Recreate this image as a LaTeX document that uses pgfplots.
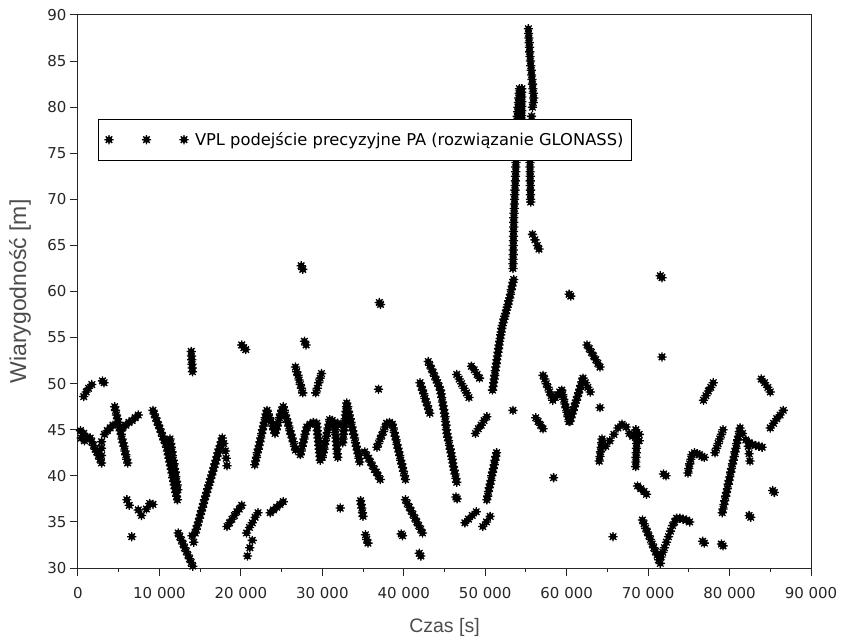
\documentclass[border=0pt]{standalone}
\usepackage{pgfplots}
\pgfplotsset{compat=1.18}
\usepackage{fontspec}
\setmainfont{DejaVu Sans}
\newfontfamily\labfont{Liberation Sans}
\pgfdeclareplotmark{ast8}{%
  \pgfpathmoveto{\pgfqpoint{-\pgfplotmarksize}{0pt}}\pgfpathlineto{\pgfqpoint{\pgfplotmarksize}{0pt}}%
  \pgfpathmoveto{\pgfqpoint{0pt}{-\pgfplotmarksize}}\pgfpathlineto{\pgfqpoint{0pt}{\pgfplotmarksize}}%
  \pgfpathmoveto{\pgfqpoint{-0.707\pgfplotmarksize}{-0.707\pgfplotmarksize}}\pgfpathlineto{\pgfqpoint{0.707\pgfplotmarksize}{0.707\pgfplotmarksize}}%
  \pgfpathmoveto{\pgfqpoint{-0.707\pgfplotmarksize}{0.707\pgfplotmarksize}}\pgfpathlineto{\pgfqpoint{0.707\pgfplotmarksize}{-0.707\pgfplotmarksize}}%
  \pgfusepathqstroke
  \pgfpathcircle{\pgfpointorigin}{0.55\pgfplotmarksize}\pgfusepathqfillstroke}
\begin{document}
\begin{tikzpicture}
\begin{axis}[
  scale only axis, width=733pt, height=553pt,
  xmin=0, xmax=90000, ymin=30, ymax=90,
  scaled x ticks=false, scaled y ticks=false,
  axis line style={line width=1pt, black!85},
  xtick={0,10000,20000,30000,40000,50000,60000,70000,80000,90000},
  xticklabels={0,10~000,20~000,30~000,40~000,50~000,60~000,70~000,80~000,90~000},
  ytick={30,35,40,45,50,55,60,65,70,75,80,85,90},
  yticklabels={30,35,40,45,50,55,60,65,70,75,80,85,90},
  minor x tick num=1,
  tick pos=left,
  tick align=outside,
  major tick length=8pt, minor tick length=4pt,
  tick style={line width=1pt, black!85},
  tick label style={font=\fontsize{15}{17}\selectfont, text=black!85},
  xticklabel style={yshift=-8pt},
  xlabel={Czas [s]}, ylabel={Wiarygodność [m]},
  label style={text=black!70},
  xlabel style={font=\labfont\fontsize{19.5}{22}\selectfont, at={(axis description cs:0.5,-0.1067)}, anchor=center},
  ylabel style={font=\labfont\fontsize{23}{25}\selectfont, at={(axis description cs:-0.0791,0.5)}, anchor=center},
  legend style={at={(axis description cs:0.0273,0.812)}, anchor=north west,
    draw=black, line width=0.8pt, fill=white,
    font=\fontsize{16.3}{18}\selectfont, inner xsep=6pt, inner ysep=11pt},
  legend image code/.code={\draw[#1,only marks] plot coordinates {(0pt,0pt) (37.5pt,0pt) (75pt,0pt)};\path[draw=none,fill=none] (-4.6pt,0pt) (84pt,0pt);},
]
\addplot[only marks, mark=ast8, mark size=4.6pt, black, line width=1.3pt] coordinates {
(300,44.9) (400,44.1) (700,44.6) (800,43.8) (1100,44.2)
(700,48.6) (1000,49.1) (1300,49.5) (1700,49.9)
(3000,50.3) (3200,50.1)
(1500,44.1) (1700,43.7) (1900,43.3) (2100,42.9) (2300,42.6) (2500,42.2) (2700,41.8) (2900,41.4) (2900,42.2) (2900,43.0) (2900,43.7)
(3250,44.5) (3600,44.9) (3950,45.2) (4300,45.5)
(4500,47.5) (4610,47.1) (4730,46.6) (4840,46.2) (4960,45.8) (5070,45.3) (5190,44.9) (5300,44.5) (5410,44.0) (5530,43.6) (5640,43.2) (5760,42.7) (5870,42.3) (5990,41.8) (6100,41.4)
(5500,45.2) (5880,45.5) (6260,45.8) (6640,46.0) (7020,46.3) (7400,46.6)
(6000,37.4) (6300,36.8) (7400,36.3) (7800,35.7) (8400,36.4) (8800,37.0) (9200,36.9)
(6600,33.4)
(9200,47.1) (9370,46.7) (9540,46.3) (9710,45.9) (9880,45.5) (10050,45.1) (10220,44.7) (10390,44.3) (10560,43.9) (10730,43.5) (10900,43.1)
(10990,42.7) (11090,42.3) (11180,41.9) (11270,41.5) (11360,41.1) (11460,40.7) (11550,40.3) (11640,39.8) (11740,39.4) (11830,39.0) (11920,38.6) (12010,38.2) (12110,37.8) (12200,37.4)
(11300,44.0) (11380,43.5) (11460,43.1) (11540,42.6) (11620,42.2) (11700,41.7) (11780,41.3) (11860,40.8) (11940,40.4) (12020,39.9) (12100,39.4) (12180,39.0) (12260,38.5)
(13900,53.5) (13930,53.0) (13960,52.6) (14000,52.1) (14030,51.7) (14060,51.3)
(20100,54.2) (20350,53.9) (20600,53.7)
(12300,33.8) (12500,33.4) (12700,33.0) (12900,32.6) (13100,32.2) (13300,31.8) (13500,31.4) (13700,31.0) (13900,30.6) (14100,30.2) (14300,29.8)
(14000,33.5) (14200,32.8)
(14400,33.8) (14530,34.2) (14650,34.6) (14780,35.0) (14910,35.4) (15030,35.8) (15160,36.2) (15290,36.6) (15420,37.0) (15540,37.4) (15670,37.8) (15800,38.2) (15920,38.6) (16050,39.0) (16180,39.3) (16300,39.7) (16430,40.1) (16560,40.5) (16690,40.9) (16810,41.3) (16940,41.7) (17070,42.1) (17190,42.5) (17320,42.9) (17450,43.3) (17580,43.7) (17700,44.1)
(17900,43.5) (18100,42.7) (18200,41.9) (18300,41.1)
(18300,34.5) (18600,34.9) (18900,35.3) (19200,35.7) (19500,36.1) (19800,36.4) (20100,36.8)
(20700,33.8) (21050,34.4) (21400,34.9) (21750,35.5) (22100,36.0)
(20800,31.3) (21100,32.2) (21400,33.0)
(23600,36.0) (24000,36.3) (24400,36.6) (24800,36.9) (25200,37.2)
(21700,41.2) (21810,41.6) (21910,42.0) (22020,42.5) (22130,42.9) (22240,43.3) (22340,43.7) (22450,44.1) (22560,44.6) (22660,45.0) (22770,45.4) (22880,45.8) (22990,46.3) (23090,46.7) (23200,47.1)
(23370,46.7) (23530,46.3) (23700,45.9) (23870,45.4) (24030,45.0) (24200,44.6)
(24330,45.0) (24470,45.4) (24600,45.8) (24730,46.3) (24870,46.7) (25000,47.1) (25200,47.5)
(25340,47.1) (25470,46.6) (25610,46.2) (25750,45.8) (25880,45.4) (26020,44.9) (26160,44.5) (26290,44.1) (26430,43.7) (26570,43.2) (26700,42.8)
(27300,42.3) (27410,42.7) (27530,43.2) (27640,43.6) (27760,44.0) (27870,44.5) (27990,44.9) (28100,45.3)
(28500,45.6) (28900,45.8) (29300,45.7)
(29340,45.3) (29380,44.9) (29430,44.5) (29470,44.1) (29520,43.7) (29560,43.3) (29610,42.9) (29650,42.5) (29700,42.1) (29740,41.7)
(30000,42.0) (30100,42.5) (30200,42.9) (30300,43.4) (30400,43.8) (30500,44.3) (30600,44.7) (30700,45.2) (30800,45.6) (30900,46.1)
(31200,46.0) (31500,45.8)
(31540,45.4) (31580,45.0) (31630,44.5) (31670,44.1) (31710,43.7) (31760,43.3) (31800,42.9) (31840,42.4) (31900,42.0)
(31900,45.7) (32300,45.5)
(32500,43.6) (32550,44.0) (32600,44.5) (32650,44.9) (32700,45.3) (32750,45.7) (32800,46.2) (32850,46.6) (32900,47.0) (32950,47.5) (33000,47.9)
(33110,47.5) (33210,47.0) (33320,46.6) (33430,46.2) (33530,45.8) (33640,45.3) (33750,44.9) (33850,44.5) (33960,44.1) (34070,43.6) (34170,43.2) (34280,42.8) (34390,42.4) (34490,41.9) (34600,41.5)
(35200,42.6) (35440,42.2) (35680,41.9) (35910,41.5) (36150,41.1) (36390,40.7) (36630,40.4) (36860,40.0) (37100,39.6)
(36700,43.1) (36900,43.5) (37100,44.0) (37300,44.4) (37500,44.8) (37700,45.3) (37900,45.7) (38250,45.8) (38600,45.6)
(38710,45.2) (38830,44.7) (38940,44.3) (39060,43.9) (39170,43.4) (39290,43.0) (39400,42.6) (39510,42.2) (39630,41.7) (39740,41.3) (39860,40.9) (39970,40.5) (40090,40.0) (40200,39.6)
(26700,51.8) (26850,51.3) (27000,50.9) (27150,50.4) (27300,49.9) (27450,49.5) (27600,49.0)
(29200,49.0) (29380,49.5) (29550,50.1) (29730,50.6) (29900,51.1)
(27800,54.6) (28000,54.2)
(27400,62.8) (27600,62.4)
(37000,58.8) (37150,58.6)
(36900,49.4)
(32200,36.5)
(34700,37.3) (34780,36.9) (34850,36.5) (34930,36.0) (35000,35.6)
(35300,33.6) (35450,33.1) (35600,32.7)
(40200,37.4) (40430,37.0) (40670,36.6) (40900,36.2) (41130,35.8) (41370,35.4) (41600,35.0) (41830,34.6) (42070,34.2) (42300,33.8)
(39700,33.7) (39850,33.5)
(41900,31.6) (42100,31.3)
(42000,50.1) (42150,49.7) (42300,49.3) (42450,48.9) (42600,48.4) (42750,48.0) (42900,47.6) (43050,47.2) (43200,46.8)
(43000,52.4) (43200,52.0) (43400,51.6) (43600,51.2) (43800,50.8)
(43980,50.4) (44150,50.1) (44330,49.7) (44500,49.3)
(44580,48.9) (44670,48.5) (44750,48.0) (44830,47.6) (44920,47.2) (45000,46.8)
(45060,46.4) (45120,45.9) (45180,45.5) (45240,45.0) (45300,44.6)
(45400,44.2) (45500,43.8) (45600,43.3) (45700,42.9) (45800,42.5)
(45880,42.1) (45950,41.8) (46030,41.4) (46100,41.0)
(46200,40.6) (46300,40.2) (46400,39.7) (46500,39.3)
(46400,37.7) (46550,37.5)
(46500,51.0) (46800,50.5) (47100,50.0) (47400,49.5) (47700,49.0) (48000,48.5)
(48300,51.9) (48650,51.5) (49000,51.0) (49300,50.6)
(48800,44.6) (49150,45.1) (49500,45.5) (49850,46.0) (50200,46.4)
(50200,37.4) (50300,37.8) (50400,38.3) (50500,38.7) (50600,39.1) (50700,39.5) (50800,40.0) (50900,40.4) (51000,40.8) (51100,41.2) (51200,41.7) (51300,42.1) (51400,42.5)
(47500,34.9) (47950,35.3) (48400,35.7) (48900,36.1)
(49700,34.5) (50150,35.0) (50600,35.6)
(50900,49.3) (50970,49.7) (51030,50.1) (51100,50.5) (51170,50.9) (51230,51.4) (51300,51.8) (51370,52.2) (51430,52.6) (51500,53.0) (51570,53.4) (51630,53.8) (51700,54.2) (51770,54.6) (51830,54.9) (51900,55.3) (51970,55.6) (52030,56.0) (52100,56.3) (52200,56.6) (52300,57.0) (52400,57.3) (52500,57.6) (52600,58.0) (52700,58.3) (52800,58.6) (52900,59.0) (53000,59.3) (53100,59.7) (53200,60.2) (53300,60.6) (53400,61.0) (53500,61.3)
(53400,62.5) (53410,63.0) (53420,63.5) (53430,64.0) (53440,64.5) (53450,65.0) (53460,65.5) (53470,66.0) (53480,66.5) (53490,67.0) (53500,67.5) (53510,68.0) (53540,68.5) (53560,69.0) (53580,69.5) (53610,70.0) (53630,70.5) (53650,71.0) (53680,71.5) (53700,72.0) (53720,72.5) (53740,73.0) (53760,73.5) (53770,74.0) (53780,74.5) (53800,75.0) (53810,75.5) (53820,76.0) (53840,76.5) (53850,77.0) (53860,77.5) (53870,78.0) (53890,78.5) (53940,79.0) (53980,79.5) (54030,80.0) (54070,80.5) (54110,81.0) (54160,81.5) (54200,82.0)
(54500,78.6) (54500,79.1) (54500,79.6) (54500,80.1) (54500,80.6) (54500,81.1) (54500,81.6) (54500,82.0)
(55300,88.5) (55330,88.0) (55360,87.5) (55400,87.0) (55430,86.5) (55460,86.0) (55500,85.5) (55550,85.0) (55600,84.5) (55650,84.0) (55700,83.5) (55750,83.0) (55800,82.5) (55850,82.0) (55900,81.5) (55950,81.0)
(55900,80.5) (55800,80.0) (55700,79.0) (55600,78.0) (55550,77.0) (55500,76.0) (55500,75.0) (55500,74.5)
(55500,74.0) (55500,73.5) (55510,73.0) (55520,72.5) (55530,72.0) (55540,71.5) (55550,71.0) (55560,70.5) (55570,70.0) (55580,69.7)
(55800,66.2) (56100,65.6) (56400,65.0) (56600,64.6)
(53400,47.1)
(60300,59.7) (60500,59.5)
(56200,46.3) (56500,45.9) (56800,45.5) (57100,45.1)
(57100,50.9) (57300,50.5) (57500,50.0) (57700,49.6) (57900,49.1) (58100,48.7) (58300,48.2)
(58600,48.5) (58900,48.8) (59150,49.1) (59400,49.3)
(59520,48.8) (59650,48.3) (59780,47.8) (59900,47.4) (60030,46.9) (60150,46.4) (60280,45.9) (60400,45.9)
(60530,46.3) (60670,46.7) (60800,47.1) (60930,47.5) (61070,47.9) (61200,48.2) (61330,48.6) (61470,49.0) (61600,49.4) (61730,49.8) (61870,50.2) (62000,50.6)
(62300,50.1) (62600,49.6) (62900,49.1)
(62500,54.2) (62770,53.8) (63030,53.4) (63300,53.0) (63570,52.6) (63830,52.2) (64100,51.8)
(64100,47.4)
(58400,39.8)
(64000,41.6) (64080,42.1) (64150,42.6) (64230,43.1) (64300,43.6) (64350,44.0)
(64800,43.2) (65300,43.8) (65800,44.5) (66300,45.2) (66800,45.6) (67300,45.3) (67700,44.6) (68100,44.3)
(68500,45.0) (68550,44.5) (68600,44.0) (68600,43.5) (68580,43.0) (68550,42.5) (68520,42.0) (68500,41.5) (68480,41.0)
(68900,44.5) (68900,43.8)
(68700,38.9) (69100,38.6) (69500,38.3) (69800,38.0)
(71900,40.2) (72200,40.0)
(71500,61.7) (71700,61.5)
(71700,52.9)
(65700,33.4)
(69300,35.2) (69500,34.8) (69700,34.3) (69900,33.9) (70100,33.5) (70300,33.1) (70500,32.6) (70700,32.2) (70900,31.8) (71100,31.4) (71300,30.9) (71500,30.5)
(71600,31.2) (71800,31.7) (72000,32.2) (72250,32.8) (72500,33.4) (72750,34.0) (73000,34.6) (73250,35.0) (73500,35.4)
(73900,35.4) (74300,35.3) (74700,35.2) (75100,35.0)
(76700,32.9) (76900,32.7) (79000,32.6) (79200,32.4)
(74900,40.3) (75000,40.8) (75100,41.3) (75250,41.8) (75400,42.3) (75700,42.5) (76000,42.4) (76300,42.3) (76600,42.1) (76900,42.0)
(76800,48.2) (77100,48.7) (77400,49.2) (77700,49.6) (78000,50.1)
(78200,42.5) (78400,43.0) (78600,43.5) (78800,44.0) (79000,44.5) (79200,45.0)
(79100,36.0) (79200,36.4) (79310,36.9) (79410,37.3) (79520,37.8) (79620,38.2) (79730,38.6) (79830,39.1) (79940,39.5) (80040,39.9) (80150,40.4) (80250,40.8) (80360,41.3) (80460,41.7) (80570,42.1) (80670,42.6) (80780,43.0) (80880,43.5) (80990,43.9) (81090,44.3) (81200,44.8) (81300,45.2)
(81600,44.6) (82000,43.9) (82400,43.6) (82800,43.4) (83200,43.3) (83600,43.2) (84000,43.1)
(82300,43.2) (82400,42.4) (82500,41.6)
(82400,35.7) (82600,35.5)
(85300,38.4) (85500,38.2)
(83900,50.5) (84300,50.1) (84700,49.6) (85000,49.1)
(85000,45.2) (85400,45.7) (85800,46.2) (86200,46.6) (86600,47.1)
};
\addlegendentry{VPL podejście precyzyjne PA (rozwiązanie GLONASS)}
\end{axis}
\pgfresetboundingbox
\path[use as bounding box] (current axis.south west) ++(-78pt,-76pt) rectangle ++(842pt,644pt);
\end{tikzpicture}
\end{document}
